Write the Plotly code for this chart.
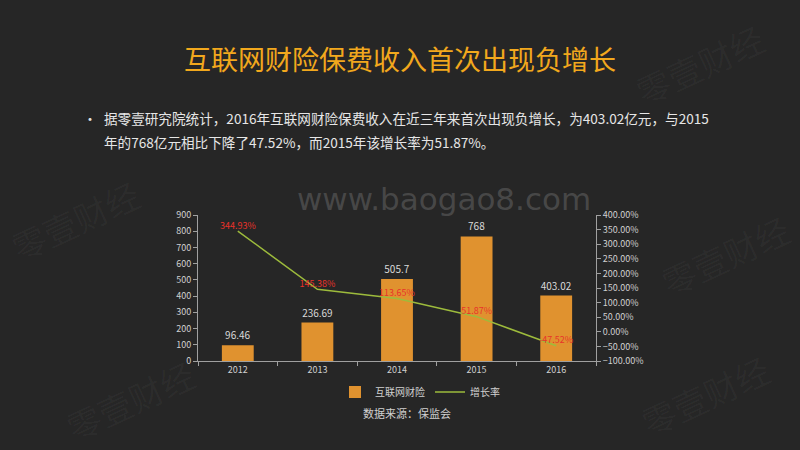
import plotly.graph_objects as go

years = ["2012", "2013", "2014", "2015", "2016"]
premium = [96.46, 236.69, 505.7, 768, 403.02]
growth = [344.93, 145.38, 113.65, 51.87, -47.52]
premium_labels = ["96.46", "236.69", "505.7", "768", "403.02"]
growth_labels = ["344.93%", "145.38%", "113.65%", "51.87%", "-47.52%"]

FONT = "Noto Sans CJK SC"
BG = "#262626"
L, R, T, B = 198, 204, 215, 89

fig = go.Figure()
fig.add_trace(go.Bar(
    x=years, y=premium, name="互联网财险",
    marker=dict(color="#e0922f", line=dict(width=0)),
    width=0.4,
    text=premium_labels, textposition="outside",
    textfont=dict(color="#d9d9d9", size=10, family=FONT),
    cliponaxis=False,
))
fig.add_trace(go.Scatter(
    x=years, y=growth, name="增长率", yaxis="y2",
    mode="lines+text",
    line=dict(color="#9dbb3c", width=1.5),
    text=growth_labels, textposition="top center",
    textfont=dict(color="#e8322a", size=9, family=FONT),
    cliponaxis=False,
))

fig.update_layout(
    width=800, height=450,
    paper_bgcolor=BG, plot_bgcolor=BG,
    margin=dict(l=L, r=R, t=T, b=B),
    showlegend=True,
    legend=dict(orientation="h", x=(420 - L) / (800 - L - R), xanchor="center", y=-0.212, yanchor="middle",
                font=dict(size=10, color="#d0d0d0", family=FONT),
                bgcolor="rgba(0,0,0,0)", itemwidth=30, tracegroupgap=0),
    font=dict(family=FONT, color="#d0d0d0"),
    xaxis=dict(type="category", showgrid=False, showline=True, linecolor="#a0a0a0", linewidth=1,
               ticks="outside", tickson="boundaries", ticklen=4, tickcolor="#a0a0a0",
               tickfont=dict(size=9, color="#d0d0d0")),
    yaxis=dict(range=[0, 900], dtick=100, showgrid=False, zeroline=False, showline=True,
               linecolor="#a0a0a0", ticks="outside", ticklen=4, tickcolor="#a0a0a0",
               tickfont=dict(size=9, color="#d0d0d0")),
    yaxis2=dict(range=[-100, 400], dtick=50, overlaying="y", side="right", showgrid=False,
                zeroline=False, showline=True, linecolor="#a0a0a0", ticks="outside", ticklen=4,
                tickcolor="#a0a0a0", tickformat=".2f", ticksuffix="%",
                tickfont=dict(size=9, color="#d0d0d0")),
)


def px_to_paper(px, py):
    return (px - L) / (800 - L - R), (450 - B - py) / (450 - T - B)


def add_text(text, px, py, size, color, family=FONT, xanchor="center", yanchor="middle", angle=0):
    xx, yy = px_to_paper(px, py)
    fig.add_annotation(text=text, x=xx, y=yy, xref="paper", yref="paper", showarrow=False,
                       xanchor=xanchor, yanchor=yanchor, textangle=angle, align="left",
                       font=dict(size=size, color=color, family=family))


# Watermarks
wm = [(700, 65), (75, 220), (725, 255), (705, 395), (130, 400)]
for (px, py) in wm:
    add_text("零壹财经", px, py, 34, "rgba(255,255,255,0.035)", angle=-25)
add_text("www.baogao8.com", 444, 199, 31, "rgba(120,120,120,0.42)", family="DejaVu Sans")

add_text("互联网财险保费收入首次出现负增长", 400, 58, 27, "#f2a81d")
add_text("•", 90, 118, 14, "#e0e0e0")
add_text("据零壹研究院统计，2016年互联网财险保费收入在近三年来首次出现负增长，为403.02亿元，与2015",
         102, 118, 13.6, "#e6e6e6", xanchor="left")
add_text("年的768亿元相比下降了47.52%，而2015年该增长率为51.87%。",
         102, 142, 13.6, "#e6e6e6", xanchor="left")
add_text("数据来源：保监会", 407, 413, 11, "#d0d0d0")

fig.write_html("out.html", config={"displayModeBar": False},
               post_script="document.body.style.margin='0';document.body.style.background='#262626';")
